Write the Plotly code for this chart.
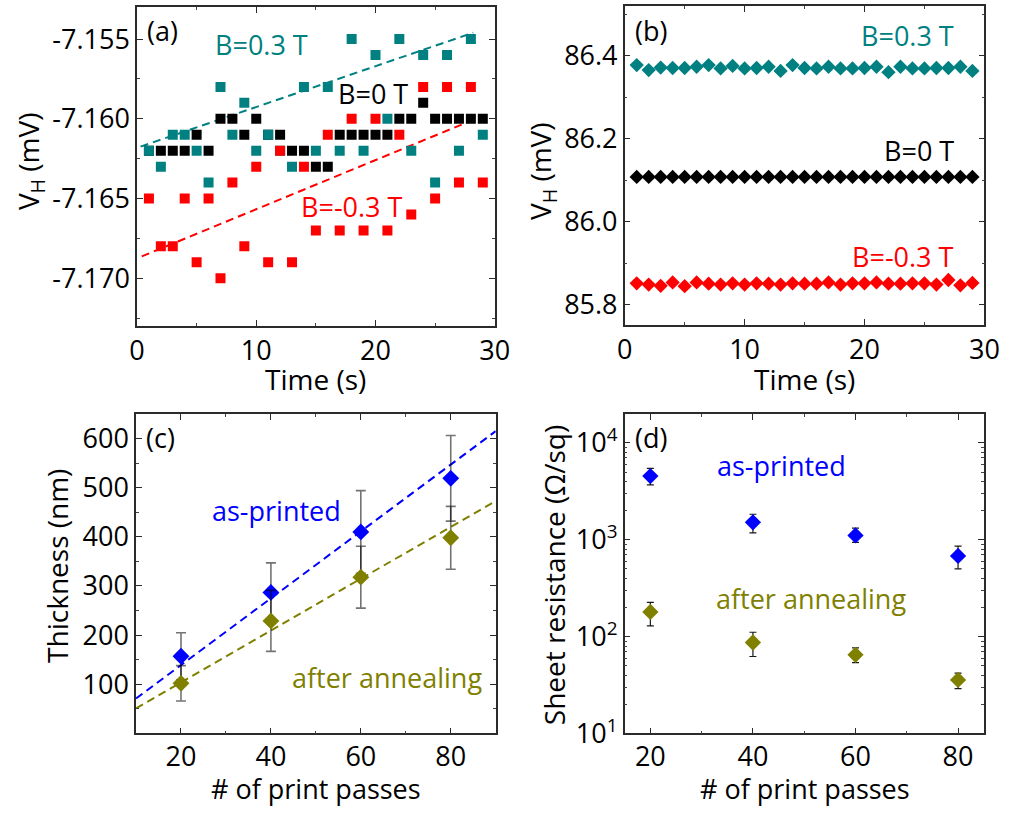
import numpy as np
import plotly.graph_objects as go

FONT = "Open Sans"
TEAL, RED, BLACK, BLUE, OLIVE = "#008080", "#FF0000", "#000000", "#0000FF", "#808000"
W, H = 1016, 820

# ---------------- (a) Hall voltage at the mV offset level ----------------
time_s = list(range(1, 30))
vh_a_pos = [-7.162, -7.163, -7.161, -7.161, -7.162, -7.164, -7.158, -7.161, -7.159, -7.162,
            -7.161, -7.162, -7.163, -7.158, -7.162, -7.158, -7.162, -7.155, -7.162, -7.156,
            -7.160, -7.155, -7.162, -7.156, -7.164, -7.156, -7.162, -7.155, -7.161]
vh_a_zero = [-7.162, -7.162, -7.162, -7.162, -7.161, -7.162, -7.160, -7.160, -7.161, -7.160,
             -7.161, -7.161, -7.162, -7.162, -7.163, -7.163, -7.161, -7.161, -7.161, -7.161,
             -7.161, -7.160, -7.160, -7.159, -7.160, -7.160, -7.160, -7.160, -7.160]
vh_a_neg = [-7.165, -7.168, -7.168, -7.165, -7.169, -7.165, -7.170, -7.164, -7.168, -7.163,
            -7.169, -7.162, -7.169, -7.163, -7.167, -7.161, -7.167, -7.160, -7.167, -7.160,
            -7.167, -7.161, -7.166, -7.158, -7.165, -7.158, -7.164, -7.158, -7.164]
# linear trend lines: slope (mV/s), intercept (mV), time span (s)
trend_a_pos = (0.000256, -7.16182, 0.3, 28.2)
trend_a_neg = (0.000308, -7.16875, 0.4, 29.4)
ticks_a_y = [-7.170, -7.165, -7.160, -7.155]
ticktext_a_y = ["-7.170", "-7.165", "-7.160", "-7.155"]

# ---------------- (b) Hall voltage at the 86 mV level ----------------
vh_b_pos = [86.378, 86.366, 86.372, 86.371, 86.371, 86.374, 86.378, 86.370, 86.376, 86.370,
            86.371, 86.374, 86.364, 86.378, 86.371, 86.370, 86.374, 86.370, 86.370, 86.371,
            86.374, 86.361, 86.374, 86.370, 86.370, 86.371, 86.371, 86.374, 86.364]
vh_b_zero = [86.108, 86.108, 86.108, 86.108, 86.108, 86.108, 86.108, 86.108, 86.108, 86.108,
             86.108, 86.108, 86.108, 86.108, 86.108, 86.108, 86.108, 86.108, 86.108, 86.108,
             86.108, 86.108, 86.108, 86.108, 86.108, 86.108, 86.108, 86.108, 86.108]
vh_b_neg = [85.851, 85.848, 85.845, 85.853, 85.844, 85.853, 85.850, 85.848, 85.851, 85.848,
            85.851, 85.850, 85.848, 85.851, 85.850, 85.850, 85.853, 85.848, 85.851, 85.851,
            85.853, 85.850, 85.850, 85.851, 85.851, 85.848, 85.859, 85.846, 85.852]

# ---------------- (c) film thickness ----------------
passes = [20, 40, 60, 80]
thick_printed = [157, 287, 410, 519]
thick_printed_err = [48, 60, 84, 87]
thick_annealed = [102, 229, 318, 398]
thick_annealed_err = [36, 62, 63, 64]
# linear fits: slope (nm/pass), intercept (nm)
fit_printed = (6.8, 3.0)
fit_annealed = (5.275, -1.75)
fit_span = (10, 90)

# ---------------- (d) sheet resistance ----------------
rs_printed = [4560, 1517, 1110, 681]
rs_printed_up = [900, 320, 210, 180]
rs_printed_down = [860, 335, 170, 180]
rs_annealed = [180, 87, 65, 35.7]
rs_annealed_up = [46, 24, 11.5, 6.3]
rs_annealed_down = [51, 24.6, 11, 6.7]

fig = go.Figure()

def line_trace(slope, intercept, x0, x1, color, xa, ya):
    xs = np.array([x0, x1], dtype=float)
    return go.Scatter(x=xs, y=intercept + slope * xs, mode="lines", xaxis=xa, yaxis=ya,
                      line=dict(color=color, width=2, dash="8px,5px"), hoverinfo="skip")

# (a)
fig.add_trace(line_trace(*trend_a_pos, TEAL, "x", "y"))
fig.add_trace(line_trace(*trend_a_neg, RED, "x", "y"))
for vals, col in [(vh_a_zero, BLACK), (vh_a_pos, TEAL), (vh_a_neg, RED)]:
    fig.add_trace(go.Scatter(x=time_s, y=vals, mode="markers", xaxis="x", yaxis="y",
                             marker=dict(symbol="square", size=10, color=col, line=dict(width=0))))

# (b)
for vals, col in [(vh_b_pos, TEAL), (vh_b_zero, BLACK), (vh_b_neg, RED)]:
    fig.add_trace(go.Scatter(x=time_s, y=vals, mode="markers", xaxis="x2", yaxis="y2",
                             marker=dict(symbol="diamond", size=11, color=col, line=dict(width=0))))

# (c)
fig.add_trace(line_trace(*fit_printed, *fit_span, BLUE, "x3", "y3"))
fig.add_trace(line_trace(*fit_annealed, *fit_span, OLIVE, "x3", "y3"))
err_style = dict(type="data", color="rgba(0,0,0,0.55)", thickness=1.6, width=5)
fig.add_trace(go.Scatter(x=passes, y=thick_printed, mode="markers", xaxis="x3", yaxis="y3",
                         error_y=dict(array=thick_printed_err, **err_style),
                         marker=dict(symbol="diamond", size=13, color=BLUE, line=dict(width=0))))
fig.add_trace(go.Scatter(x=passes, y=thick_annealed, mode="markers", xaxis="x3", yaxis="y3",
                         error_y=dict(array=thick_annealed_err, **err_style),
                         marker=dict(symbol="diamond", size=13, color=OLIVE, line=dict(width=0))))

# (d)
err_d = dict(type="data", symmetric=False, color="rgba(0,0,0,0.9)", thickness=1.2, width=3.5)
fig.add_trace(go.Scatter(x=passes, y=rs_printed, mode="markers", xaxis="x4", yaxis="y4",
                         error_y=dict(array=rs_printed_up, arrayminus=rs_printed_down, **err_d),
                         marker=dict(symbol="diamond", size=12.5, color=BLUE, line=dict(width=0))))
fig.add_trace(go.Scatter(x=passes, y=rs_annealed, mode="markers", xaxis="x4", yaxis="y4",
                         error_y=dict(array=rs_annealed_up, arrayminus=rs_annealed_down, **err_d),
                         marker=dict(symbol="diamond", size=12.5, color=OLIVE, line=dict(width=0))))

TICKFONT = dict(family=FONT, size=27, color="black")

def axis(domain, rng, minor_dtick, **kw):
    a = dict(domain=domain, range=rng, showline=True, linecolor="#2b2b2b", linewidth=1.5,
             mirror="allticks", ticks="inside", ticklen=6, tickwidth=1.3, tickcolor="#2b2b2b",
             showgrid=False, zeroline=False, tickfont=TICKFONT,
             minor=dict(dtick=minor_dtick, ticks="inside", ticklen=3, tickwidth=1.2,
                        tickcolor="#444", showgrid=False))
    a.update(kw)
    return a

def dx(x0, x1):
    return [x0 / W, x1 / W]

def dy(top, bottom):
    return [1 - bottom / H, 1 - top / H]

fig.update_layout(
    width=W, height=H, margin=dict(l=0, r=0, t=0, b=0),
    paper_bgcolor="white", plot_bgcolor="white", showlegend=False,
    font=dict(family=FONT, color="black"),
    xaxis=axis(dx(132, 498), [0, 30], 5, anchor="y", dtick=10, tick0=0),
    yaxis=axis(dy(7, 333), [-7.173, -7.15298], 0.0025, anchor="x",
               tickvals=ticks_a_y, ticktext=ticktext_a_y),
    xaxis2=axis(dx(631, 999), [0, 30], 5, anchor="y2", dtick=10, tick0=0),
    yaxis2=axis(dy(6, 332), [85.750, 86.521], 0.1, anchor="x2", dtick=0.2, tick0=85.8,
                tickformat=".1f"),
    xaxis3=axis(dx(131, 499), [10, 90], 10, anchor="y3", tickvals=passes,
                ticklabelstandoff=-2),
    yaxis3=axis(dy(422.7, 749), [0, 650], 50, anchor="x3",
                tickvals=[100, 200, 300, 400, 500, 600]),
    xaxis4=axis(dx(631, 998.3), [15, 85], 10, anchor="y4", tickvals=passes,
                ticklabelstandoff=-2),
    yaxis4=axis(dy(422.7, 749), [1, 4.3], "D1", anchor="x4", type="log",
                tickvals=[10, 100, 1000, 10000],
                ticktext=["10<sup>1</sup>", "10<sup>2</sup>", "10<sup>3</sup>", "10<sup>4</sup>"]),
)

ANN = 27
anns = []

def label(text, xref, x, y, color, size=ANN, xanchor="center"):
    anns.append(dict(text=text, xref=xref + " domain", yref=xref.replace("x", "y") + " domain",
                     x=x, y=y, showarrow=False, xanchor=xanchor, yanchor="middle",
                     font=dict(family=FONT, size=size, color=color)))

label("(a)", "x", 0.071, 0.9245, BLACK)
label("B=0.3 T", "x", 0.348, 0.883, TEAL)
label("B=0 T", "x", 0.661, 0.729, BLACK)
label("B=-0.3 T", "x", 0.602, 0.375, RED)
label("(b)", "x2", 0.072, 0.9215, BLACK)
label("B=0.3 T", "x2", 0.921, 0.907, TEAL, xanchor="right")
label("B=0 T", "x2", 0.921, 0.5485, BLACK, xanchor="right")
label("B=-0.3 T", "x2", 0.921, 0.2156, RED, xanchor="right")
label("(c)", "x3", 0.068, 0.9268, BLACK)
label("as-printed", "x3", 0.391, 0.6987, BLUE)
label("after annealing", "x3", 0.699, 0.176, OLIVE)
label("(d)", "x4", 0.0735, 0.9268, BLACK)
label("as-printed", "x4", 0.4375, 0.8397, BLUE)
label("after annealing", "x4", 0.52, 0.423, OLIVE)

def title(text, x, y, angle=0, size=28):
    anns.append(dict(text=text, xref="paper", yref="paper", x=x / W, y=1 - y / H,
                     showarrow=False, textangle=angle, xanchor="center", yanchor="middle",
                     font=dict(family=FONT, size=size, color="black")))

title("V<sub>H</sub> (mV)", 22, 165, -90)
title("V<sub>H</sub> (mV)", 547, 175, -90)
title("Time (s)", 315, 387)
title("Time (s)", 815, 387)
title("Thickness (nm)", 50, 578, -90)
title("Sheet resistance (Ω/sq)", 558, 587, -90)
title("# of print passes", 315, 805, size=27)
title("# of print passes", 815, 805, size=27)

fig.update_layout(annotations=anns)
fig.write_html("out.html")
